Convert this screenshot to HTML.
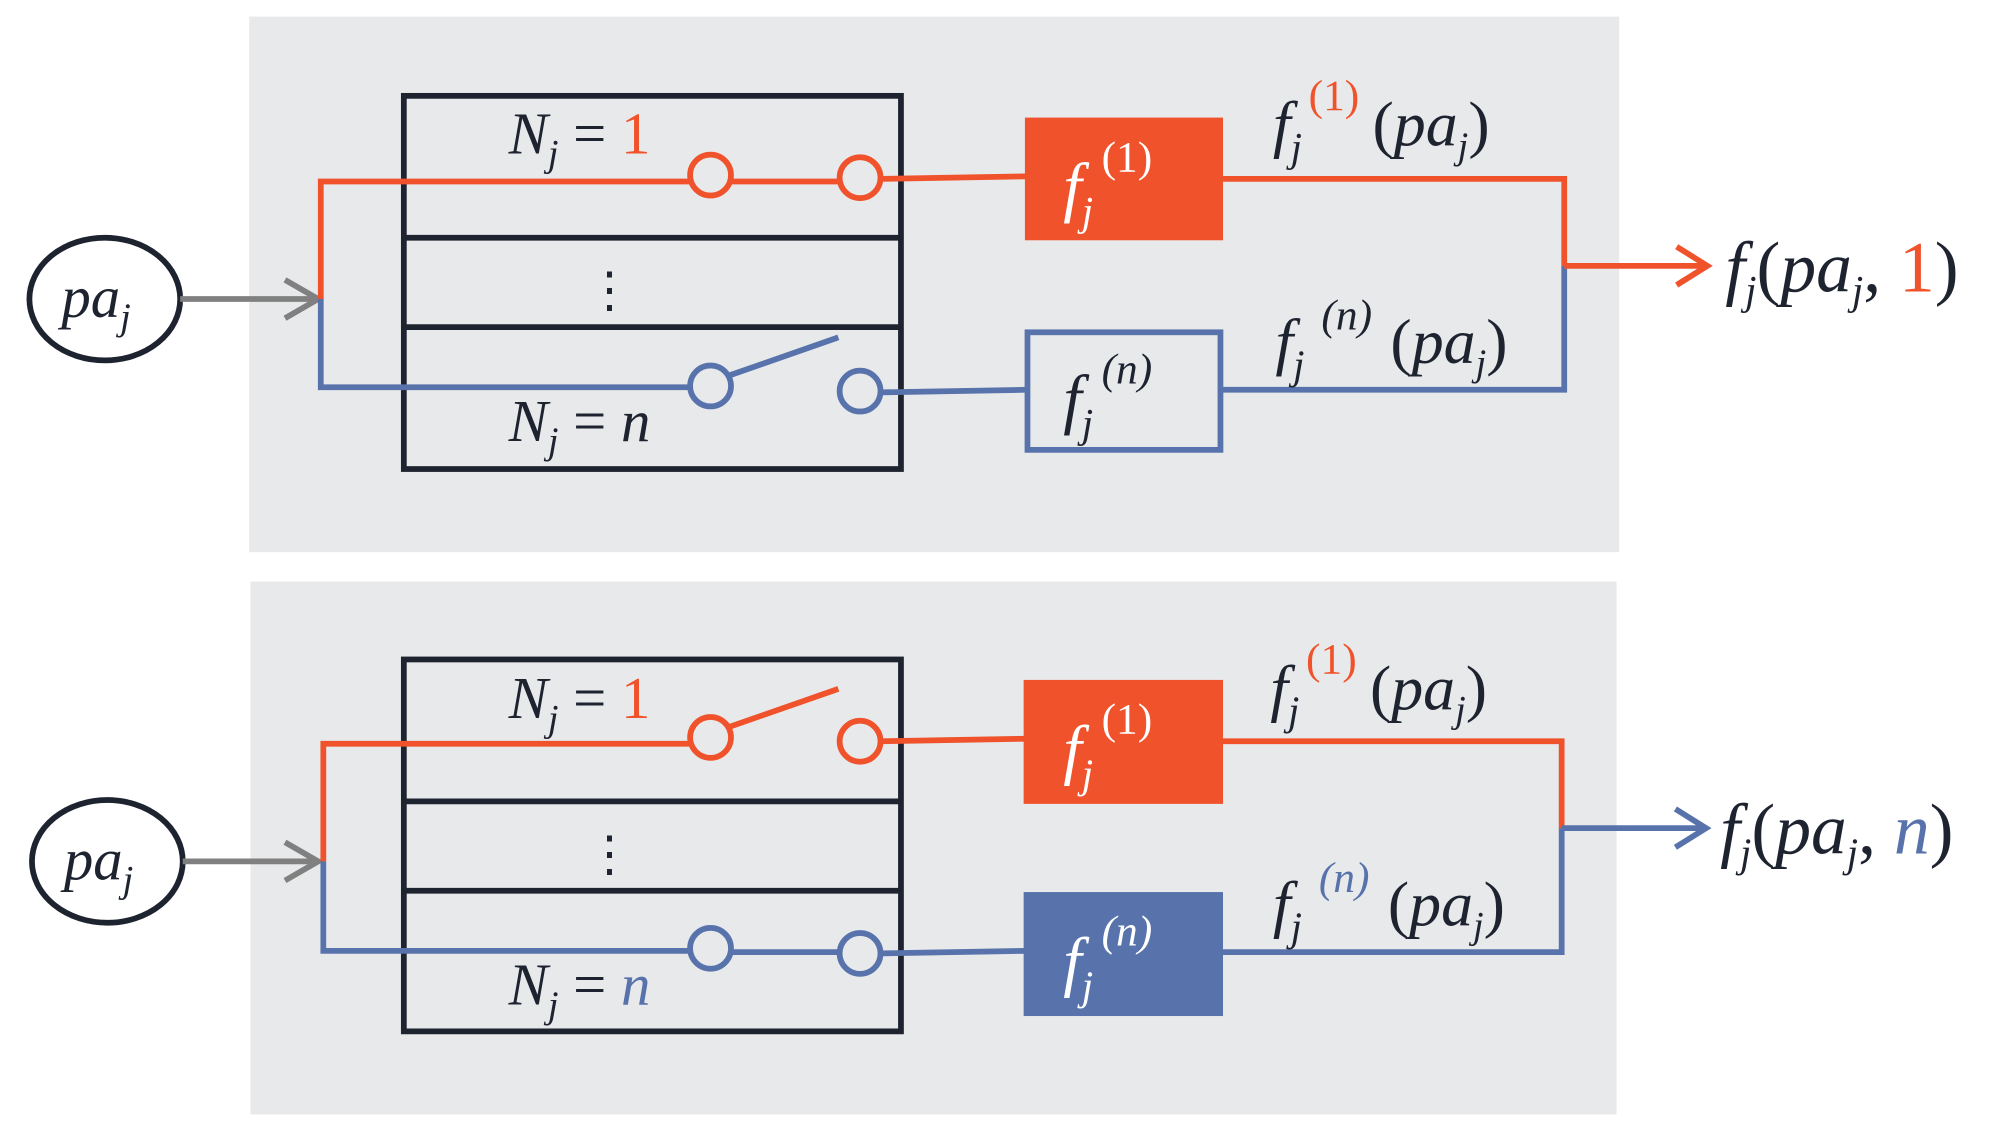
<!DOCTYPE html>
<html><head><meta charset="utf-8"><style>
html,body{margin:0;padding:0;background:#fff;}
svg{display:block;}
text{font-family:"Liberation Serif",serif;fill:#1E2330;}
</style></head><body>
<svg width="1994" height="1123" viewBox="0 0 1560.3 878.7" preserveAspectRatio="none" xmlns="http://www.w3.org/2000/svg">
<rect x="195" y="13" width="1072" height="419" fill="#E8E9EB"/>
<rect x="196" y="455" width="1069" height="417" fill="#E8E9EB"/>

<g stroke-width="4.5">
<!-- ===== TOP ===== -->
<ellipse cx="82" cy="234" rx="59" ry="48" fill="#fff" stroke="#1E2330"/>
<line x1="141" y1="234" x2="248" y2="234" stroke="#808080"/>
<polyline points="223,219 249,234 223,249" fill="none" stroke="#808080"/>
<rect x="316" y="75" width="389" height="292" fill="none" stroke="#1E2330"/>
<line x1="316" y1="186" x2="705" y2="186" stroke="#1E2330"/>
<line x1="316" y1="256" x2="705" y2="256" stroke="#1E2330"/>
<polyline points="251,234 251,142 540,142" fill="none" stroke="#F0522B"/>
<line x1="572" y1="142" x2="657" y2="142" stroke="#F0522B"/>
<line x1="689" y1="140" x2="803" y2="138" stroke="#F0522B"/>
<circle cx="556" cy="137" r="16" fill="none" stroke="#F0522B"/>
<circle cx="673" cy="139" r="16" fill="none" stroke="#F0522B"/>
<polyline points="251,234 251,303 540,303" fill="none" stroke="#5873AB"/>
<line x1="570" y1="294" x2="656" y2="264" stroke="#5873AB"/>
<line x1="689" y1="307" x2="803" y2="305" stroke="#5873AB"/>
<circle cx="556" cy="302" r="16" fill="none" stroke="#5873AB"/>
<circle cx="673" cy="306" r="16" fill="none" stroke="#5873AB"/>
<rect x="802" y="92" width="155" height="96" fill="#F0522B" stroke="none"/>
<rect x="804" y="260" width="151" height="92" fill="none" stroke="#5873AB"/>
<polyline points="957,140 1224,140 1224,208" fill="none" stroke="#F0522B"/>
<polyline points="957,305 1224,305 1224,208" fill="none" stroke="#5873AB"/>
<line x1="1224" y1="208" x2="1334" y2="208" stroke="#F0522B"/>
<polyline points="1312,193 1336,208 1312,223" fill="none" stroke="#F0522B"/>

<!-- ===== BOTTOM ===== -->
<ellipse cx="84" cy="674" rx="59" ry="48" fill="#fff" stroke="#1E2330"/>
<line x1="143" y1="674" x2="248" y2="674" stroke="#808080"/>
<polyline points="223,659 249,674 223,689" fill="none" stroke="#808080"/>
<rect x="316" y="516" width="389" height="291" fill="none" stroke="#1E2330"/>
<line x1="316" y1="627" x2="705" y2="627" stroke="#1E2330"/>
<line x1="316" y1="697" x2="705" y2="697" stroke="#1E2330"/>
<polyline points="253,674 253,582 540,582" fill="none" stroke="#F0522B"/>
<line x1="570" y1="569" x2="656" y2="539" stroke="#F0522B"/>
<line x1="689" y1="580" x2="803" y2="578" stroke="#F0522B"/>
<circle cx="556" cy="577" r="16" fill="none" stroke="#F0522B"/>
<circle cx="673" cy="580" r="16" fill="none" stroke="#F0522B"/>
<polyline points="253,674 253,744 540,744" fill="none" stroke="#5873AB"/>
<line x1="572" y1="745" x2="657" y2="745" stroke="#5873AB"/>
<line x1="689" y1="746" x2="803" y2="744" stroke="#5873AB"/>
<circle cx="556" cy="742" r="16" fill="none" stroke="#5873AB"/>
<circle cx="673" cy="746" r="16" fill="none" stroke="#5873AB"/>
<rect x="801" y="532" width="156" height="97" fill="#F0522B" stroke="none"/>
<rect x="801" y="698" width="156" height="97" fill="#5873AB" stroke="none"/>
<polyline points="957,580 1222,580 1222,648" fill="none" stroke="#F0522B"/>
<polyline points="957,745 1222,745 1222,648" fill="none" stroke="#5873AB"/>
<line x1="1222" y1="648" x2="1333" y2="648" stroke="#5873AB"/>
<polyline points="1311,633 1335,648 1311,663" fill="none" stroke="#5873AB"/>
</g>

<!-- TOP text -->
<text x="48" y="248" font-size="46" font-style="italic">pa<tspan dy="10" font-size="30">j</tspan></text>
<text x="398" y="120" font-size="46" font-style="italic">N<tspan dy="10" font-size="30">j</tspan><tspan dy="-10" font-style="normal"> = </tspan><tspan font-style="normal" fill="#F0522B">1</tspan></text>
<text x="458" y="240" font-size="38" font-style="normal">⋮</text>
<text x="398" y="345" font-size="46" font-style="italic">N<tspan dy="10" font-size="30">j</tspan><tspan dy="-10" font-style="normal"> = </tspan>n</text>
<text x="832" y="164" font-size="52" font-style="italic" style="fill:#fff">f<tspan dy="12" font-size="32" style="fill:#fff">j</tspan><tspan x="862" y="134" font-size="34" font-style="normal" style="fill:#fff">(1)</tspan></text>
<text x="832" y="330" font-size="52" font-style="italic">f<tspan dy="12" font-size="32">j</tspan><tspan x="862" y="300" font-size="34">(n)</tspan></text>
<text x="996" y="114" font-size="50" font-style="italic">f<tspan dy="12" font-size="32">j</tspan><tspan x="1024" y="86" font-size="34" font-style="normal" fill="#F0522B">(1)</tspan><tspan x="1074" y="114" font-style="normal">(</tspan>pa<tspan dy="10" font-size="30">j</tspan><tspan dy="-10" font-style="normal">)</tspan></text>
<text x="998" y="284" font-size="50" font-style="italic">f<tspan dy="12" font-size="32">j</tspan><tspan x="1034" y="258" font-size="34">(n)</tspan><tspan x="1088" y="284" font-style="normal">(</tspan>pa<tspan dy="10" font-size="30">j</tspan><tspan dy="-10" font-style="normal">)</tspan></text>
<text x="1350" y="228" font-size="56" font-style="italic">f<tspan dy="10" font-size="32">j</tspan><tspan dy="-10" font-style="normal">(</tspan>pa<tspan dy="10" font-size="32">j</tspan><tspan dy="-10" font-style="normal">, </tspan><tspan font-style="normal" fill="#F0522B">1</tspan><tspan font-style="normal">)</tspan></text>

<!-- BOTTOM text -->
<text x="50" y="688" font-size="46" font-style="italic">pa<tspan dy="10" font-size="30">j</tspan></text>
<text x="398" y="562" font-size="46" font-style="italic">N<tspan dy="10" font-size="30">j</tspan><tspan dy="-10" font-style="normal"> = </tspan><tspan font-style="normal" fill="#F0522B">1</tspan></text>
<text x="458" y="681" font-size="38" font-style="normal">⋮</text>
<text x="398" y="786" font-size="46" font-style="italic">N<tspan dy="10" font-size="30">j</tspan><tspan dy="-10" font-style="normal"> = </tspan><tspan fill="#5873AB">n</tspan></text>
<text x="832" y="604" font-size="52" font-style="italic" style="fill:#fff">f<tspan dy="12" font-size="32" style="fill:#fff">j</tspan><tspan x="862" y="574" font-size="34" font-style="normal" style="fill:#fff">(1)</tspan></text>
<text x="832" y="770" font-size="52" font-style="italic" style="fill:#fff">f<tspan dy="12" font-size="32" style="fill:#fff">j</tspan><tspan x="862" y="740" font-size="34" style="fill:#fff">(n)</tspan></text>
<text x="994" y="555" font-size="50" font-style="italic">f<tspan dy="12" font-size="32">j</tspan><tspan x="1022" y="527" font-size="34" font-style="normal" fill="#F0522B">(1)</tspan><tspan x="1072" y="555" font-style="normal">(</tspan>pa<tspan dy="10" font-size="30">j</tspan><tspan dy="-10" font-style="normal">)</tspan></text>
<text x="996" y="724" font-size="50" font-style="italic">f<tspan dy="12" font-size="32">j</tspan><tspan x="1032" y="698" font-size="34" fill="#5873AB">(n)</tspan><tspan x="1086" y="724" font-style="normal">(</tspan>pa<tspan dy="10" font-size="30">j</tspan><tspan dy="-10" font-style="normal">)</tspan></text>
<text x="1346" y="668" font-size="56" font-style="italic">f<tspan dy="10" font-size="32">j</tspan><tspan dy="-10" font-style="normal">(</tspan>pa<tspan dy="10" font-size="32">j</tspan><tspan dy="-10" font-style="normal">, </tspan><tspan fill="#5873AB">n</tspan><tspan font-style="normal">)</tspan></text>
</svg>
</body></html>
